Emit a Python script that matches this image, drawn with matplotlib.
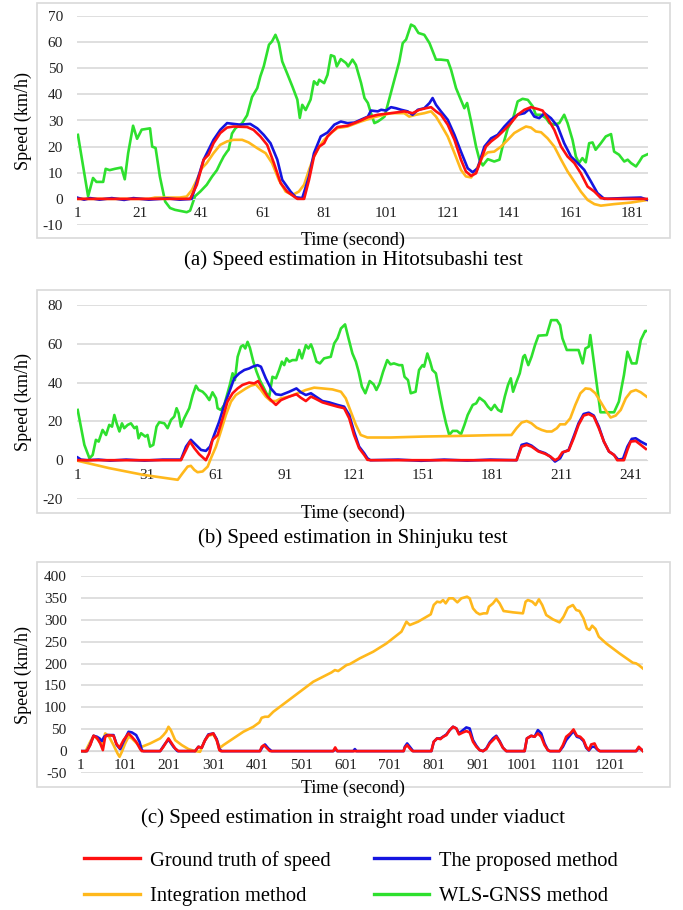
import matplotlib
matplotlib.use("Agg")
import matplotlib.pyplot as plt
from matplotlib.patches import Rectangle
from matplotlib.lines import Line2D

plt.rcParams['font.family'] = ['Liberation Serif', 'DejaVu Serif']
plt.rcParams['axes.unicode_minus'] = False

# ---- data: (time, speed km/h) ----
A_GREEN = [(1, 24.5), (4.3, 1), (5.9, 8), (7, 6.5), (9.2, 6.5), (10, 11.5), (11.3, 11), (13, 11.5), (15.1, 12),
           (16.2, 7.5), (17.3, 17.5), (18.9, 28), (20.2, 23), (21.7, 26.5), (24.4, 27), (25.1, 20), (26.2, 19.5),
           (27.6, 8.5), (29.3, -1), (30.9, -3.5), (32.5, -4.2), (36.3, -5.1), (37.4, -4.5), (39, 1), (40.7, 2.8),
           (42.8, 5.4), (44.5, 8.5), (46.1, 11), (47.2, 13.7), (48.3, 16.2), (49.4, 18.1), (49.9, 18.8), (51, 25),
           (52.1, 27), (54.3, 29), (55.9, 32), (57.5, 39), (59.2, 42.4), (60.2, 46.9), (61.3, 50.7), (63, 59),
           (64, 60.3), (65.1, 62.8), (66.2, 59.6), (67.3, 52.6), (68.9, 48), (70.6, 43), (72.2, 38), (73, 31),
           (73.8, 36), (74.9, 34), (76.5, 38), (77.6, 45), (78.7, 43.7), (79.3, 45.6), (80.9, 44.3), (82, 47.5),
           (83.1, 55), (84.2, 54.5), (85, 50.7), (86.3, 53.5), (88, 52), (88.7, 50.7), (90.1, 53.3), (91.2, 51.3),
           (92.9, 44.3), (94, 38.6), (95.1, 36.7), (96.1, 32.8), (97.2, 29), (98.3, 29.6), (99.4, 30.5),
           (100.5, 31.5), (102.1, 38.6), (103.7, 45.6), (105.3, 52.6), (106.4, 59.6), (107.5, 61), (109.1, 66.7),
           (110.2, 66), (111.5, 63.5), (113.4, 62.8), (115.1, 59.6), (117.2, 53.3), (118.8, 53.3), (121, 53),
           (122.1, 49.4), (123.7, 42.4), (125.3, 37.9), (126.4, 34.7), (127.3, 36.7), (128.6, 29.6), (130.2, 20),
           (131.3, 15), (132.4, 12.8), (134, 15.2), (136.1, 14.3), (137.8, 15), (138.8, 20), (140.5, 27),
           (142.1, 30.3), (143.7, 37.3), (145.3, 38.3), (147, 37.9), (148.6, 35.4), (149.6, 32.2), (151.3, 32.2),
           (152.9, 30.9), (154, 29), (155.6, 28.4), (157.2, 29), (158.8, 32.2), (159.9, 29), (161.5, 22.6),
           (162.6, 16.2), (163.6, 13.7), (164.7, 15.6), (165.8, 14), (166.9, 21.3), (168, 21.6), (169, 18.8),
           (170.7, 21.3), (172.3, 23.9), (174, 24.8), (175, 18.1), (176.6, 16.9), (178.3, 14.3), (179.4, 15),
           (180.5, 13.7), (182.1, 12.4), (183.2, 14.3), (184.2, 16.2), (185.9, 17.1)]
A_RED = [(1, 0), (37.4, 0), (39.6, 5.4), (41.8, 15), (43.4, 16.9), (45, 21.3), (47.2, 25.2), (49.4, 27.3),
         (51.5, 27.7), (55.9, 27.5), (58, 26.4), (60.2, 23.9), (62.4, 20.7), (64.6, 13.7), (66.8, 6), (68.9, 2.8),
         (71.1, 0.9), (72.2, 0), (74.4, 0), (76, 7.3), (77.6, 16.2), (79.3, 20), (80.9, 21.3), (82, 23.9),
         (83.6, 25.8), (85.2, 27.5), (88.5, 28), (90.7, 29), (92.8, 30), (95.1, 31.3), (98.3, 32.2), (102.6, 32.8),
         (106.9, 33.5), (109.6, 32.8), (111.8, 34.1), (113.9, 34.7), (115.6, 35.1), (117.2, 33.5), (118.8, 32.2),
         (121, 28.4), (123.2, 22.6), (125.3, 15), (126.9, 10.5), (128.6, 8.8), (130.2, 9.8), (131.8, 15),
         (133.4, 20), (135.1, 22), (137.2, 23.9), (139.4, 26.4), (141.5, 29), (143.7, 32.2), (145.9, 34.1),
         (148, 35.1), (150.2, 34.4), (151.8, 33.8), (153.4, 30.9), (155.6, 26.4), (157.8, 20), (159.9, 16.2),
         (162.1, 13.7), (164.2, 9.8), (166.4, 4.7), (168.6, 2.8), (170.7, 0.3), (172.9, 0), (185.9, 0)]
A_BLUE = [(1, 0.4), (3, -0.3), (5, 0.3), (8, -0.3), (12, 0.3), (16, -0.4), (19, 0.3), (24, -0.3), (30, 0.2),
          (34, -0.3), (37.9, 0), (41.8, 15), (45, 22.6), (47.2, 26.4), (49.4, 29), (51.5, 28.7), (53.7, 28.4),
          (56.9, 28.7), (59.2, 27), (61.3, 24.5), (63.5, 21.3), (65.7, 15), (67.3, 7.3), (70, 2.8), (71.7, 0.6),
          (73.8, 0.3), (76, 8.6), (77.6, 17.5), (79.8, 23.9), (82, 25.4), (84.2, 28.4), (86.3, 29.6), (88.5, 29),
          (90.7, 29.2), (92.8, 30.3), (95.1, 31.5), (96.1, 33.8), (98.3, 33.5), (99.4, 34.1), (101, 33.8),
          (102.6, 35.1), (104.2, 34.7), (105.9, 34.1), (108, 33.5), (109.6, 32.2), (111.3, 34.1), (113.4, 34.7),
          (115.1, 36.7), (116.1, 38.6), (117.2, 36), (118.8, 33.5), (121, 30.3), (123.2, 24.5), (125.3, 18.1),
          (127.5, 11.7), (129.1, 10.2), (130.7, 11.7), (132.9, 20), (135.1, 23.2), (137.2, 24.5), (139.4, 27.7),
          (141.5, 30.3), (143.7, 32.2), (145.9, 32.8), (147.5, 34.4), (149.1, 31.5), (150.7, 30.9), (152.4, 32.8),
          (154.5, 30.9), (156.7, 27.7), (158.8, 21.3), (161, 16.2), (163.2, 13.7), (165.3, 11.1), (167.5, 6.6),
          (169.6, 2.2), (171.8, 0), (178, 0.3), (183.7, 0.5), (185.9, -0.4)]
A_ORANGE = [(1, 0), (24, 0), (26, 0.5), (34, 0.5), (36.3, 0.9), (38, 3.4), (39.6, 7.3), (41.2, 11.7), (42.8, 13.7),
            (45, 17.5), (47.2, 20.7), (49.4, 22), (51.5, 22.6), (54.3, 22.6), (56.4, 21.6), (59.2, 19.4),
            (61.9, 17.5), (64, 13.7), (66.2, 7.3), (68.4, 2.8), (70.6, 1.5), (72.7, 2.8), (74.4, 5.4), (76, 11.1),
            (77.6, 16.2), (79.3, 20), (80.9, 22.6), (83.1, 25.2), (85.2, 27.1), (88.5, 27.7), (92.8, 29.6),
            (97.2, 31.3), (102.6, 32.8), (106.9, 32.8), (108.5, 31.5), (110.7, 32.2), (113.4, 32.8), (115.6, 33.5),
            (117.2, 31.5), (118.8, 28.4), (121, 23.9), (123.2, 17.5), (125.3, 11.1), (126.9, 8.6), (128.6, 8.2),
            (130.2, 11.1), (132.4, 16.2), (134, 17.8), (136.1, 18.1), (138.3, 20), (140.5, 22.6), (142.6, 25.2),
            (144.8, 26.7), (146.4, 27.7), (148, 27.3), (149.6, 25.8), (151.3, 25.5), (153.4, 23.2), (155.6, 20),
            (157.8, 15), (159.9, 10.5), (162.1, 6.6), (164.2, 2.8), (166.4, -0.4), (168.6, -2), (170.7, -2.6),
            (175, -2), (180.5, -1.4), (185.9, -0.4)]

B_GREEN = [(1, 25.9), (3.9, 7.9), (6.1, 1), (7.5, 2.7), (8.9, 10.5), (10.1, 9.6), (11.8, 15.6), (13.3, 13),
           (14.7, 18.2), (15.9, 17.3), (16.9, 23.3), (17.9, 19), (19.1, 14.8), (20.2, 19), (21.2, 16.5), (22.7, 18.2),
           (24.1, 19), (25.6, 16.5), (26.6, 17.3), (27.4, 11.3), (28.5, 13.9), (30.3, 12.2), (31.3, 13), (32.4, 7),
           (33.8, 7.9), (35.2, 17.3), (36.4, 19.6), (38.6, 19), (40, 16.5), (41.5, 20.8), (42.9, 22.5), (43.9, 26.8),
           (44.8, 24.2), (45.8, 17.3), (47.2, 21.6), (49.4, 26.8), (50.9, 33.6), (52.3, 38.4), (53.5, 36.2),
           (55.2, 35.3), (56.6, 33.6), (58.1, 31), (59.5, 35), (61, 31.9), (61.7, 26.8), (63.1, 25.9), (64.6, 28.5),
           (66, 34.5), (67, 38.8), (68.2, 44.8), (69.2, 41.3), (70.4, 53.3), (71.8, 58.5), (72.8, 59.3),
           (73.7, 57.6), (74.7, 61), (75.7, 58), (77.2, 50.8), (78.6, 45.6), (80, 41.3), (81.5, 37.9), (82.9, 34.5),
           (84.1, 32.8), (85.5, 43), (87, 42.2), (88.4, 46.5), (89.6, 50.8), (90.6, 49), (91.6, 52.5), (92.8, 50.8),
           (94.2, 51.6), (95.9, 51.6), (97.1, 56.8), (98.3, 52.5), (100, 59.3), (101.1, 57.6), (102.2, 59.7),
           (102.9, 57.6), (104.6, 50.8), (106.1, 49.9), (107.9, 52.5), (110.8, 53.3), (112.3, 60.2), (113.7, 62.8),
           (115.2, 67.9), (117, 70), (118.5, 62.8), (120.2, 55), (121.7, 50.8), (122.9, 45.6), (124.3, 37.9),
           (125.8, 34.5), (127.7, 40.8), (129.4, 39.1), (130.6, 36.2), (132, 39.6), (133.5, 45.6), (135.3, 51.6),
           (136.7, 49.4), (138.2, 49.9), (140.4, 49), (141.8, 49), (142.8, 43), (144.3, 41.3), (145.5, 34.5),
           (147.6, 35.3), (149.1, 46.5), (150.6, 49), (151.3, 48.2), (152.7, 55), (153.9, 50.8), (154.9, 46.5),
           (156.4, 44.8), (157.9, 35.3), (159.3, 26.8), (160.8, 19), (162.2, 13), (163.7, 15.1), (165.6, 15.1),
           (167.3, 13.4), (168.8, 18.2), (170.2, 23.3), (172.4, 28.5), (173.9, 29.3), (175.3, 32.2), (177.5, 30.2),
           (179, 27.6), (180.4, 25.9), (181.9, 28.5), (183.4, 25.9), (184.8, 25), (186.3, 32.8), (187.7, 38.8),
           (188.9, 42.2), (189.9, 35.3), (191.4, 40.5), (192.8, 44.8), (194.3, 53.3), (195, 54.2), (196.5, 49),
           (197.9, 53.3), (199.4, 59.3), (200.9, 64.2), (204.5, 64.5), (206.4, 72.2), (208.9, 72.2), (210.3, 69.6),
           (211.3, 62.8), (213.2, 56.8), (218.3, 56.8), (220.1, 49.9), (221.3, 57.6), (222.7, 58.5), (223.4, 64.5),
           (224.9, 50.8), (226.4, 37), (227.8, 24.7), (233.7, 24.7), (235.8, 30.2), (238, 43.9), (239.5, 55.9),
           (241.4, 49.9), (243.4, 49.9), (245.3, 61.9), (247.2, 66.6), (247.8, 66.6)]
B_RED = [(1, 0), (45.8, 0), (48, 5.3), (49.7, 9.6), (51.6, 6.2), (53.7, 3.1), (56.6, 0), (58.1, 3.6), (59.5, 10.5),
         (61.7, 13), (63.9, 21.6), (66, 30.2), (68.2, 34.5), (70.4, 37), (72.5, 38.8), (75.4, 40), (77.6, 39.6),
         (79.3, 40.8), (81.2, 37), (83.4, 32.8), (85.5, 30.2), (87, 28.5), (89.2, 31), (92.8, 32.8), (95.9, 34),
         (97.8, 32.2), (100, 30.5), (102.2, 32.8), (104.3, 31.6), (107.2, 29.8), (110.1, 28.8), (113.7, 27.6),
         (116.6, 26.8), (118.8, 21.6), (120.9, 13), (123.1, 6.2), (125.3, 2.7), (126.7, 0.2), (128, 0), (191.4, 0),
         (193.6, 7), (195.8, 7.9), (197.9, 7), (200.9, 4.5), (203.8, 3.3), (206, 1.9), (208.1, 0), (209.6, 1),
         (211.3, 4.1), (214, 5), (216.2, 11.3), (218.3, 18.2), (220.5, 23), (222.7, 23.8), (224.9, 22.5),
         (227.1, 16.5), (229.3, 9.6), (231.5, 4.5), (233.7, 2.7), (235.1, 0), (238, 0), (239.5, 5.3), (240.9, 9.6),
         (243.1, 9.9), (245.3, 7.9), (247.5, 5.8)]
B_BLUE = [(1, 1.4), (2.4, 0.3), (5, 0), (10, 0.3), (15, -0.2), (22, 0.3), (30, -0.2), (38, 0.3), (45.8, 0.3),
          (48, 7), (50.1, 10.5), (52.3, 7.9), (54.5, 5.3), (56.6, 4.8), (58.4, 7), (60.2, 13), (62.4, 19.9),
          (64.6, 28.5), (66.8, 35.3), (68.9, 42.2), (71.1, 44.8), (73.3, 46.5), (75.4, 47.3), (76.9, 48.2), (79, 49),
          (80.5, 48.2), (82.6, 42.2), (84.8, 37), (87, 34), (89.2, 33.6), (92.8, 35.3), (95.9, 37), (97.8, 35),
          (100, 33.6), (102.2, 34.5), (104.3, 32.8), (107.2, 30.5), (110.1, 29.8), (113.7, 28.5), (116.6, 27.6),
          (118.8, 23.3), (120.9, 14.8), (123.1, 7), (125.3, 3.6), (126.7, 1), (128, 0), (140, 0.3), (150, -0.3),
          (160, 0.3), (170, -0.2), (180, 0.3), (191.4, 0), (193.6, 7.9), (195.8, 8.6), (197.9, 7.5), (200.9, 4.8),
          (203.8, 3.6), (206, 1.9), (208.1, -0.7), (210.3, 1), (211.7, 4.1), (214, 5.3), (216.2, 12.2), (218.3, 19),
          (220.5, 23.8), (222.7, 24.5), (224.9, 23), (227.1, 17.3), (229.3, 9.6), (231.5, 4.5), (233.7, 2.7),
          (235.5, 0.3), (237.6, 0.7), (239.5, 7), (241.4, 11), (243.1, 11.3), (245.3, 9.6), (247.5, 8.2)]
B_ORANGE = [(1, -0.3), (14.7, -4.1), (29.2, -7.5), (44.4, -10.1), (46.5, -6.7), (48.7, -3.3), (50.1, -2.9),
            (51.6, -5), (53, -6.2), (55.2, -5.8), (57.4, -3.3), (58.8, 1), (61, 7), (63.1, 14.8), (65.3, 23.3),
            (67.5, 30.2), (69.6, 33.6), (71.8, 35.3), (74, 37), (76.1, 38.4), (78.3, 39.1), (80.5, 36.2),
            (82.6, 32.8), (84.8, 30.5), (87, 30.5), (89.2, 31.9), (92.8, 32.8), (96.4, 34.5), (100, 36.2),
            (103.6, 37.4), (107.2, 37), (111.5, 36.5), (115.2, 35.3), (117.3, 31.9), (119.5, 25), (121.7, 18.2),
            (123.8, 13), (126.7, 11.7), (136.7, 11.7), (151.3, 12.2), (165.9, 12.5), (180.4, 12.9), (189.2, 13),
            (191.4, 16.5), (193.6, 19.4), (195.8, 20.2), (197.9, 19), (200.1, 16.8), (202.3, 15.6), (204.5, 14.8),
            (206.7, 14.8), (208.9, 16.5), (210.3, 18.5), (212.5, 18.5), (214.7, 21.6), (216.9, 28.5), (219.1, 34.5),
            (221.3, 37), (223.4, 36.7), (225.6, 34.5), (227.8, 30.2), (230, 25.9), (232.2, 22), (234.4, 23),
            (236.6, 25.9), (238.8, 31.9), (241, 35.3), (243.2, 36.2), (245.3, 35), (247.8, 32.8)]

C_RED = [(1, 0), (14.6, 0), (22.1, 13.7), (29.7, 35), (37.2, 30.5), (44.8, 17.5), (50.8, 2.3), (56.1, 32.8),
         (63.7, 36.6), (75, 35), (81, 17.5), (88.6, 7.6), (97.6, 25.1), (109, 40.4), (116.5, 32.8), (126.3, 21.3),
         (135.4, 4.6), (139.2, 0), (180.7, 0), (188.2, 9.9), (199.6, 29), (207.1, 17.5), (214.7, 6.1), (222.2, 0),
         (260, 0), (267.5, 9.9), (275, 7.6), (282.6, 25.1), (290.1, 36.6), (301.4, 40.4), (309, 25.1), (315, 2.3),
         (318, 0), (407.2, 0), (411, 9.9), (416.2, 13.7), (422.3, 7.6), (429.8, 0), (573.3, 0), (577.8, 8.4),
         (582.4, 0), (733, 0), (735.7, 7.6), (741, 13.7), (747, 6.1), (753.1, 0), (796, 0), (801.3, 21.3),
         (808.9, 29), (816.4, 27.4), (822.5, 32.8), (830, 36.6), (837.5, 48), (845.1, 55.6), (852.6, 51.8),
         (858.6, 38.1), (867.7, 42.7), (875.2, 45.7), (882.8, 42.7), (890.4, 21.3), (898, 9.9), (905.5, 2.3),
         (913.1, 0), (920.6, 4.6), (928.2, 17.5), (935.7, 25.1), (943.2, 32.8), (950.8, 21.3), (958.3, 7.6),
         (965.9, 0), (1007.4, 0), (1012.7, 29), (1022.5, 35), (1030, 32.8), (1037.6, 40.4), (1045.1, 32.8),
         (1052.7, 13.7), (1060.2, 2.3), (1064, 0), (1086.7, 0), (1094.3, 13.7), (1101.8, 32.8), (1110.9, 40.4),
         (1118.4, 49.5), (1126, 35), (1133.5, 32.8), (1141.1, 25.1), (1147.2, 9.9), (1153.2, 2.3), (1158.5, 15.2),
         (1166.1, 17.5), (1171.4, 6.1), (1177.4, 0), (1260.3, 0), (1266.4, 9.9), (1271.6, 4.6), (1275.5, 0)]
C_BLUE = [(1, 0), (14.6, 0), (22.1, 15.2), (29.7, 35), (37.2, 32.8), (43.3, 29), (48.6, 22.9), (53.8, 32.8),
          (59.9, 36.6), (75, 36.6), (82.5, 13.7), (90.1, 4.6), (97.6, 21.3), (109, 44.2), (116.5, 42.7),
          (126.3, 36.6), (133.9, 21.3), (139.2, 2.3), (143, 0), (180.7, 0), (189.7, 13.7), (199.6, 26.7),
          (210.9, 9.9), (220, 0), (260, 0), (267.5, 9.9), (275, 7.6), (282.6, 25.1), (290.1, 38.1), (301.4, 40.4),
          (309, 27.4), (315, 4.6), (320.4, 0), (407.2, 0), (413.2, 9.9), (418.5, 15.2), (426.1, 6.1), (433.6, 0),
          (573.3, 0), (577.8, 4.6), (582.4, 0), (618.6, 0), (622.4, 4.6), (626.2, 0), (733, 0), (735.7, 9.9),
          (741, 17.5), (747, 9.9), (754.6, 0), (796, 0), (801.3, 21.3), (808.9, 29), (816.4, 29), (822.5, 32.8),
          (830, 38.1), (837.5, 48), (845.1, 55.6), (852.6, 51.8), (858.6, 40.4), (867.7, 48), (875.2, 54.1),
          (882.8, 51.8), (890.4, 25.1), (898, 12.2), (905.5, 2.3), (913.1, 0), (920.6, 6.1), (928.2, 19.8),
          (935.7, 29), (943.2, 35), (950.8, 22.9), (958.3, 7.6), (965.9, 0), (1007.4, 0), (1012.7, 29),
          (1022.5, 35), (1030, 32.8), (1037.6, 48), (1045.1, 40.4), (1052.7, 17.5), (1060.2, 2.3), (1065.5, 0),
          (1086.7, 0), (1094.3, 9.9), (1101.8, 25.1), (1110.9, 36.6), (1118.4, 45.7), (1126, 32.8), (1133.5, 30.5),
          (1141.1, 22.9), (1147.2, 7.6), (1153.2, 1.5), (1160, 9.9), (1166.1, 9.9), (1173.7, 2.3), (1179, 0),
          (1260.3, 0), (1266.4, 7.6), (1275.5, 1.5)]
C_ORANGE = [(1, 0), (10.8, -1.5), (22.1, 21.3), (29.7, 35), (41, 25.1), (48.6, 13.7), (56.1, 40.4), (63.7, 35),
            (75, 13.7), (84, -5.3), (88.6, -13), (93.9, -1.5), (101.4, 17.5), (109, 32.8), (116.5, 29),
            (124.1, 21.3), (131.6, 13.7), (139.2, 9.9), (158, 17.5), (180.7, 29), (188.2, 36.6), (194.3, 44.2),
            (199.6, 55.6), (204.9, 48), (214.7, 25.1), (229.8, 13.7), (244.9, 4.6), (260, 0), (271.3, -1.5),
            (280.4, 21.3), (290.1, 35), (301.4, 38.1), (309, 25.1), (316.6, 7.6), (324.1, 13.7), (346.8, 29),
            (369.4, 44.2), (392.1, 55.6), (405.7, 65.5), (411, 76.2), (418.5, 78.5), (426.1, 78.5), (437.4, 89.9),
            (482.7, 124.2), (528, 158.5), (569.5, 179.8), (577.1, 185.1), (584.6, 182.9), (603.5, 196.6),
            (611.1, 198.9), (633.7, 212), (663.9, 227), (694.1, 246), (728, 272.8), (739.4, 295.6), (747, 288),
            (765.8, 295.6), (794.5, 312.4), (801.3, 333.7), (808.9, 341.3), (816.4, 339.8), (822.5, 345.1),
            (828.5, 337.5), (836, 349), (845.1, 349), (854.9, 339.8), (864, 349), (876.8, 352.8), (882.8, 349),
            (890.4, 326.1), (898, 317), (905.5, 312.4), (914.6, 314.7), (922.1, 314.7), (926.6, 329.9),
            (935.7, 337.5), (943.2, 347.4), (950.8, 337.5), (959.8, 320), (981, 317), (1003.6, 314.7),
            (1009.7, 341.3), (1015, 345.1), (1024.8, 341.3), (1032.3, 333.7), (1039.9, 346.7), (1047.4, 333.7),
            (1056.5, 310.9), (1071.6, 301), (1086.7, 294.1), (1095.8, 307), (1105.6, 327.6), (1116.9, 333.7),
            (1124.5, 322.3), (1132, 320), (1141.1, 303.2), (1148.7, 280.4), (1154.7, 276.6), (1160.7, 286.5),
            (1168.3, 278.9), (1175.8, 261.3), (1192.4, 246.1), (1222.6, 223.2), (1252.8, 201.9), (1260.3, 200.4),
            (1266.4, 196.6), (1275.5, 189)]

A_XTICKS = list(range(1, 182, 20))
B_XTICKS = list(range(1, 242, 30))
C_XTICKS = list(range(1, 1202, 100))
A_YTICKS = list(range(-10, 71, 10))
B_YTICKS = list(range(-20, 81, 20))
C_YTICKS = list(range(-50, 401, 50))

CAPTIONS = ['(a) Speed estimation in Hitotsubashi test',
            '(b) Speed estimation in Shinjuku test',
            '(c) Speed estimation in straight road under viaduct']
LABELS = ['Ground truth of speed', 'The proposed method', 'Integration method', 'WLS-GNSS method']

RED, BLUE, ORANGE, GREEN = '#FF1010', '#1515E0', '#FFB81C', '#2EE02E'
GRID = '#D9D9D9'
W, H = 683, 910

fig = plt.figure(figsize=(W / 100, H / 100), dpi=100)


def rect(l, r, top, bot):
    return [l / W, 1 - bot / H, (r - l) / W, (bot - top) / H]


def panel(box, frame, series, xticks, yticks, xlim, caption, tlabel_y, cap_y):
    # light grey chart-area frame like an Excel chart
    fig.add_artist(Rectangle((frame[0] / W, 1 - frame[3] / H), (frame[1] - frame[0]) / W,
                             (frame[3] - frame[2]) / H, transform=fig.transFigure,
                             fill=False, edgecolor=GRID, lw=1.2))
    ax = fig.add_axes(rect(*box))
    for data, col, z in series:
        t, v = zip(*data)
        ax.plot(t, v, color=col, lw=1.9, zorder=z, solid_joinstyle='round')
    ax.set_xlim(*xlim)
    ax.set_ylim(yticks[0], yticks[-1])
    ax.set_yticks(yticks)
    ax.set_xticks(xticks)
    ax.set_xticklabels([str(x) for x in xticks])
    ax.yaxis.grid(True, color=GRID, lw=1.2)
    ax.set_axisbelow(True)
    for s in ['left', 'right', 'top']:
        ax.spines[s].set_visible(False)
    ax.spines['bottom'].set_position(('data', 0))
    ax.spines['bottom'].set_color(GRID)
    ax.tick_params(axis='both', length=0, labelsize=11, colors='#222222')
    ax.tick_params(axis='x', pad=6)
    ax.tick_params(axis='y', pad=10)
    ax.patch.set_alpha(0)
    mid = (box[2] + box[3]) / 2
    fig.text(23 / W, 1 - mid / H, 'Speed (km/h)', rotation=90, ha='center', va='center', fontsize=13)
    fig.text(353 / W, 1 - tlabel_y / H, 'Time (second)', ha='center', va='center', fontsize=13)
    fig.text(353 / W, 1 - cap_y / H, caption, ha='center', va='center', fontsize=15)
    return ax


panel((77, 648, 16, 225), (37, 670, 3, 238),
      [(A_GREEN, GREEN, 2), (A_ORANGE, ORANGE, 3), (A_BLUE, BLUE, 4), (A_RED, RED, 5)],
      A_XTICKS, A_YTICKS, (0.7, 186), CAPTIONS[0], 240, 260)
panel((77, 647, 305, 499), (37, 670, 290, 513),
      [(B_GREEN, GREEN, 2), (B_ORANGE, ORANGE, 3), (B_BLUE, BLUE, 4), (B_RED, RED, 5)],
      B_XTICKS, B_YTICKS, (0.7, 248), CAPTIONS[1], 513, 538)
panel((80.7, 643, 576, 773), (37, 670, 562, 787),
      [(C_ORANGE, ORANGE, 3), (C_BLUE, BLUE, 4), (C_RED, RED, 5)],
      C_XTICKS, C_YTICKS, (0.5, 1276), CAPTIONS[2], 788, 818)

# legend: two rows, filled column-wise
handles = [Line2D([], [], color=c, lw=2.4) for c in (RED, ORANGE, BLUE, GREEN)]
labels = [LABELS[0], LABELS[2], LABELS[1], LABELS[3]]
fig.legend(handles, labels, ncol=2, loc='center left', bbox_to_anchor=(84 / W, 1 - 878.5 / H),
           frameon=False, fontsize=14.8, handlelength=2.7, handletextpad=0.5,
           columnspacing=2.1, labelspacing=0.8, borderpad=0, borderaxespad=0)

fig.savefig('out.png', dpi=100, facecolor='white')
